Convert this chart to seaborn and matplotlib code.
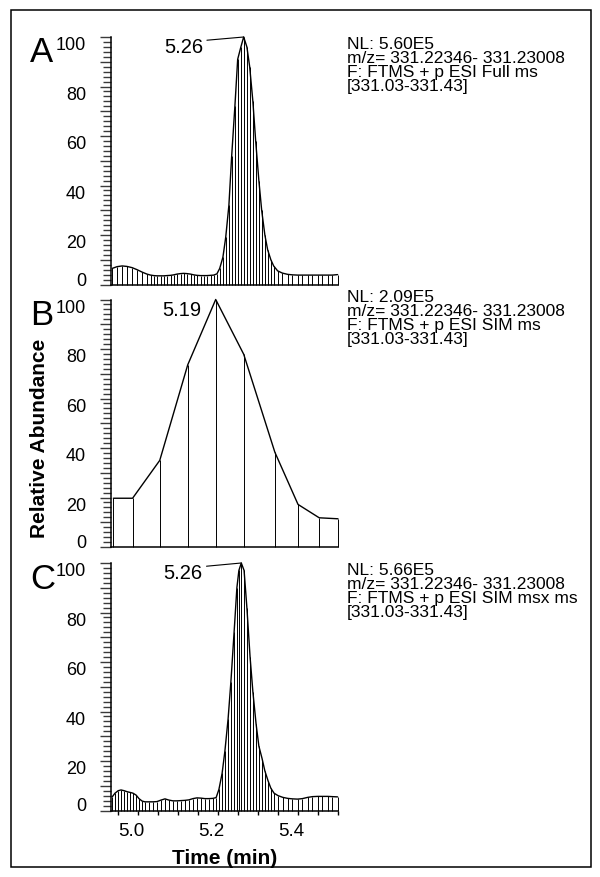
import matplotlib
matplotlib.use("Agg")
import matplotlib.pyplot as plt
import pandas as pd
import seaborn as sns
from matplotlib.patches import Rectangle
from matplotlib.transforms import ScaledTranslation

# ---- Chromatogram data (retention time in min, relative abundance in %) ----
# A: full-scan extracted ion chromatogram
time_a = [4.935, 4.947, 4.960, 4.972, 4.985, 4.997, 5.010, 5.022,
          5.031, 5.039, 5.047, 5.056, 5.064, 5.072, 5.081, 5.089, 5.097, 5.106,
          5.114, 5.122, 5.131, 5.139, 5.147, 5.156, 5.164, 5.172, 5.181, 5.189, 5.197,
          5.204, 5.212, 5.219, 5.227, 5.234, 5.242, 5.249, 5.257, 5.264, 5.272,
          5.279, 5.287, 5.294, 5.302, 5.309, 5.317, 5.324, 5.332, 5.339,
          5.349, 5.361, 5.374, 5.386, 5.399, 5.411, 5.424, 5.436, 5.449, 5.461,
          5.474, 5.486, 5.499]
abund_a = [6.5, 7.2, 7.5, 7.3, 6.8, 6.0, 5.0, 4.2,
           3.8, 3.6, 3.5, 3.5, 3.5, 3.6, 3.7, 3.9, 4.2, 4.4,
           4.5, 4.4, 4.2, 3.9, 3.7, 3.6, 3.6, 3.6, 3.7, 3.8, 4.3,
           6.5, 11, 19, 32, 52, 72, 91, 96, 100, 96,
           88, 74, 58, 42, 30, 20, 14, 10, 7.5,
           5.5, 4.6, 4.1, 3.9, 3.8, 3.8, 3.8, 3.8, 3.8, 3.8,
           3.8, 3.8, 4.0]

# B: SIM chromatogram (few scans)
time_b = [4.938, 4.986, 5.054, 5.124, 5.194, 5.264, 5.342, 5.400, 5.453, 5.500]
abund_b = [19.7, 19.7, 35.0, 73.6, 100, 77.9, 38.3, 17.2, 11.8, 11.4]

# C: multiplexed SIM chromatogram
time_c = [4.935, 4.942, 4.950, 4.957, 4.965, 4.972, 4.980, 4.987, 4.995, 5.002,
          5.010, 5.017,
          5.027, 5.037, 5.047, 5.057, 5.067, 5.077, 5.087, 5.097, 5.107, 5.117,
          5.127, 5.137, 5.147, 5.157, 5.167, 5.177, 5.187,
          5.195,
          5.202, 5.210, 5.217, 5.225, 5.232, 5.240, 5.247, 5.252, 5.258, 5.265,
          5.272, 5.280, 5.287, 5.295, 5.302, 5.310, 5.317, 5.325, 5.332, 5.340,
          5.350, 5.362, 5.374, 5.386, 5.399, 5.411, 5.424, 5.436, 5.449, 5.461,
          5.474, 5.486, 5.499]
abund_c = [5.5, 7.0, 8.0, 8.3, 8.0, 7.6, 7.3, 7.0, 6.2, 4.8,
           3.8, 3.5,
           3.5, 3.5, 3.6, 4.2, 4.7, 4.2, 3.9, 3.9, 4.0, 4.1,
           4.3, 4.8, 5.1, 5.0, 4.8, 4.8, 4.9,
           5.2,
           8.5, 15, 24, 37, 52, 72, 90, 97, 100, 97,
           82, 62, 48, 35, 26, 21, 16, 12, 9, 7,
           6, 5.3, 4.9, 4.7, 4.6, 4.8, 5.3, 5.6, 5.7, 5.7,
           5.7, 5.6, 5.5]

# Panel letters, apex retention times and scan header text
panel_letters = ["A", "B", "C"]
apex_labels = ["5.26", "5.19", "5.26"]
apex_times = [5.264, 5.194, 5.258]
header_lines = [
    ["NL: 5.60E5", "m/z= 331.22346- 331.23008",
     "F: FTMS + p ESI Full ms", "[331.03-331.43]"],
    ["NL: 2.09E5", "m/z= 331.22346- 331.23008",
     "F: FTMS + p ESI SIM ms", "[331.03-331.43]"],
    ["NL: 5.66E5", "m/z= 331.22346- 331.23008",
     "F: FTMS + p ESI SIM msx ms", "[331.03-331.43]"],
]
y_ticks = [0, 10, 20, 30, 40, 50, 60, 70, 80, 90, 100]
y_tick_labels = ["0", "", "20", "", "40", "", "60", "", "80", "", "100"]
x_ticks = [5.0, 5.2, 5.4]
x_tick_labels = ["5.0", "5.2", "5.4"]
x_minor_ticks = [4.95, 5.05, 5.10, 5.15, 5.25, 5.30, 5.35, 5.45, 5.50]

sns.set_theme(style="white")
plt.rcParams["font.family"] = ["Liberation Sans", "DejaVu Sans"]
plt.rcParams["text.color"] = "black"
plt.rcParams["axes.labelcolor"] = "black"
plt.rcParams["xtick.color"] = "black"
plt.rcParams["ytick.color"] = "black"

W, H = 600, 878
fig = plt.figure(figsize=(W / 100, H / 100), dpi=100)

X0, X1 = 111, 338          # axes left/right in pixels
T0, T1 = 4.932, 5.5        # time range
panel_tops = [38.0, 300.5, 564.0]
panel_h = 247.5
header_base = [48.7, 302.3, 574.7]
letter_base = [61.7, 325.0, 589.0]

series = [(time_a, abund_a), (time_b, abund_b), (time_c, abund_c)]


def fx(px):
    return px / W


def fy(py):
    return 1 - py / H


axes = []
for i, (tt, vv) in enumerate(series):
    top = panel_tops[i]
    ax = fig.add_axes([fx(X0), fy(top + panel_h), (X1 - X0) / W, panel_h / H])
    axes.append(ax)
    df = pd.DataFrame({"time": tt, "abundance": vv})

    # scan sticks and the trace through their tops
    ax.vlines(df["time"], 0, df["abundance"], color="black", lw=0.7,
              clip_on=False)
    sns.lineplot(data=df, x="time", y="abundance", ax=ax, color="black",
                 lw=1.0, estimator=None, sort=False, clip_on=False)

    ax.set_xlim(T0, T1)
    ax.set_ylim(0, 100)
    ax.set_xlabel("")
    ax.set_ylabel("")
    for s in ["top", "right"]:
        ax.spines[s].set_visible(False)
    for s in ["left", "bottom"]:
        ax.spines[s].set_color("black")
        ax.spines[s].set_linewidth(1.1)

    # y axis: long ticks every 10, short ticks every 2
    ax.set_yticks(y_ticks)
    ax.set_yticklabels(y_tick_labels)
    ax.set_yticks([v for v in range(0, 101, 2) if v % 10], minor=True)
    ax.tick_params(axis="y", which="major", direction="out", length=7.9,
                   width=1.0, color="#3a3a3a", pad=10, labelsize=13,
                   labelcolor="black", left=True)
    ax.tick_params(axis="y", which="minor", direction="out", length=5.8,
                   width=1.0, color="#3a3a3a", left=True)

    if i < 2:
        ax.set_xticks([])
    else:
        ax.set_xticks(x_ticks)
        ax.set_xticklabels(x_tick_labels)
        ax.set_xticks(x_minor_ticks, minor=True)
        ax.tick_params(axis="x", which="both", direction="out", length=3,
                       width=1.0, color="black", pad=5.2, labelsize=13.5,
                       labelcolor="black", bottom=True)
        shift_x = ScaledTranslation(-0.066, 0, fig.dpi_scale_trans)
        for lab in ax.get_xticklabels():
            lab.set_transform(lab.get_transform() + shift_x)

    # tick labels hang below their tick; the zero label sits on it
    shift_y = ScaledTranslation(0, -0.123, fig.dpi_scale_trans)
    for tick, val in zip(ax.yaxis.get_major_ticks(), y_ticks):
        lab = tick.label1
        lab.set_va("baseline")
        if val != 0:
            lab.set_transform(lab.get_transform() + shift_y)

    # panel letter
    fig.text(fx(30), fy(letter_base[i]), panel_letters[i], fontsize=25,
             ha="left", va="baseline", color="black")

    # header text on the right
    for k, line in enumerate(header_lines[i]):
        fig.text(fx(347), fy(header_base[i] + 14 * k), line, fontsize=12.5,
                 ha="left", va="baseline", color="black")

axA, axB, axC = axes

# apex labels
axA.text(5.1625, 94.0, apex_labels[0], fontsize=14.5, ha="right", va="baseline")
axA.plot([5.172, apex_times[0]], [98.7, 100], color="black", lw=0.8,
         clip_on=False)
axB.text(5.1585, 93.7, apex_labels[1], fontsize=14.5, ha="right", va="baseline")
axC.text(5.160, 93.8, apex_labels[2], fontsize=14.5, ha="right", va="baseline")
axC.plot([5.171, apex_times[2]], [98.7, 100], color="black", lw=0.8,
         clip_on=False)

# axis titles
axB.set_ylabel("Relative Abundance", fontsize=15, fontweight="bold",
               color="black")
axB.yaxis.label.set_va("center")
axB.yaxis.set_label_coords((39.5 - X0) / (X1 - X0), (548.0 - 438.0) / panel_h)

axC.set_xlabel("Time (min)", fontsize=15, fontweight="bold", color="black")
axC.xaxis.label.set_va("baseline")
axC.xaxis.set_label_coords(0.5, -(864.0 - 811.5) / panel_h)

# frame around the whole figure
fig.add_artist(Rectangle((fx(11), fy(868)), (591 - 11) / W, (868 - 11) / H,
                         transform=fig.transFigure, fill=False,
                         edgecolor="black", lw=1.1))

fig.savefig("out.png", dpi=100, facecolor="white")
